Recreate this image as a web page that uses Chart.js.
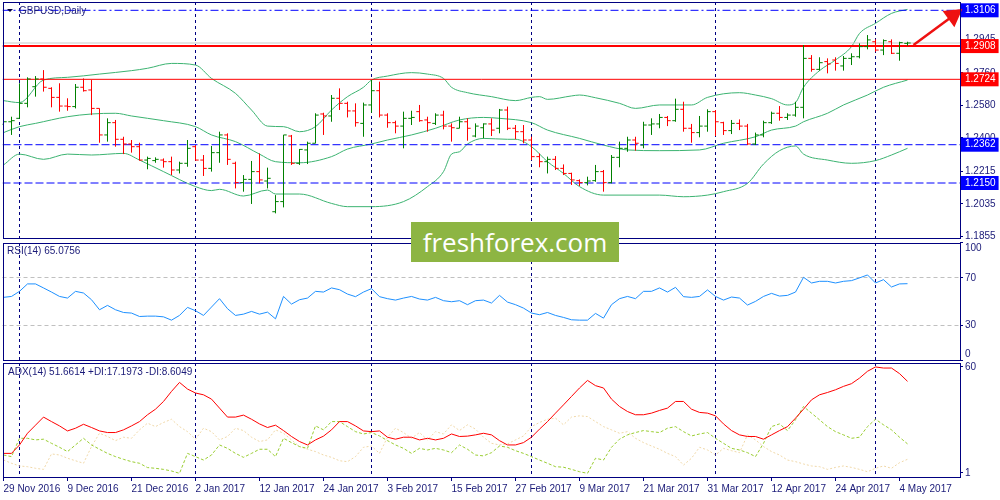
<!DOCTYPE html>
<html lang="en">
<head>
<meta charset="UTF-8">
<title>GBPUSD Daily</title>
<style>
  body { margin: 0; background: #ffffff; }
  #wrap { position: relative; width: 1000px; height: 500px; overflow: hidden; font-family: "Liberation Sans", Arial, sans-serif; }
  canvas { position: absolute; left: 0; }
  .ind { position: absolute; font-size: 10px; line-height: 12px; color: #1a1a78; white-space: nowrap; z-index: 4; }
  .tri { position: absolute; left: 7px; top: 9px; width: 0; height: 0; border-left: 3px solid transparent; border-right: 3px solid transparent; border-top: 3px solid #000040; }
  .mark { position: absolute; left: 411px; top: 222px; width: 208px; height: 40px; background: #8db543; color: #ffffff; font-family: "Open Sans", sans-serif; font-size: 26px; line-height: 40px; text-align: center; z-index: 5; }
</style>
</head>
<body>
<div id="wrap">
  <canvas id="priceChart" width="1000" height="241" style="top:0"></canvas>
  <canvas id="rsiChart" width="1000" height="124" style="top:240px"></canvas>
  <canvas id="adxChart" width="1000" height="138" style="top:362px"></canvas>
  <div class="tri"></div>
  <div class="ind" style="left:19px;top:5px">GBPUSD,Daily</div>
  <div class="ind" style="left:7px;top:245px">RSI(14) 65.0756</div>
  <div class="ind" style="left:8px;top:366px">ADX(14) 51.6614 +DI:17.1973 -DI:8.6049</div>
  <div class="mark">freshforex.com</div>
</div>

<script src="https://cdn.jsdelivr.net/npm/chart.js"></script>
<script>
// bar index 0 = 29 Nov 2016, one bar per trading day
const dateLabels = ['29 Nov 2016','9 Dec 2016','21 Dec 2016','2 Jan 2017','12 Jan 2017','24 Jan 2017','3 Feb 2017',
  '15 Feb 2017','27 Feb 2017','9 Mar 2017','21 Mar 2017','31 Mar 2017','12 Apr 2017','24 Apr 2017','4 May 2017'];
const labelIdx = [0,8,16,24,32,40,48,56,64,72,80,88,96,104,112];
const monthIdx = [2,24,46,66,89,109];

const open = [
  1.2475,1.2489,1.2508,1.2591,1.2683,1.2726,1.2674,1.2624,1.2576,1.2573,
  1.2680,1.2665,1.2563,1.2416,1.2484,1.2392,1.2366,1.2351,1.2277,1.2274,
  1.2277,1.2268,1.2222,1.2259,1.2351,1.2277,1.2231,1.2318,1.2416,1.2259,
  1.2152,1.2170,1.2213,1.2161,1.1991,1.2047,1.2410,1.2259,1.2333,1.2370,
  1.2532,1.2521,1.2619,1.2591,1.2549,1.2480,1.2582,1.2661,1.2526,1.2484,
  1.2465,1.2508,1.2545,1.2499,1.2480,1.2526,1.2465,1.2453,1.2489,1.2410,
  1.2456,1.2477,1.2453,1.2554,1.2453,1.2434,1.2388,1.2296,1.2268,1.2281,
  1.2231,1.2203,1.2163,1.2152,1.2163,1.2213,1.2152,1.2292,1.2342,1.2388,
  1.2360,1.2471,1.2477,1.2513,1.2495,1.2558,1.2453,1.2429,1.2465,1.2545,
  1.2484,1.2440,1.2480,1.2465,1.2366,1.2416,1.2484,1.2536,1.2513,1.2526,
  1.2569,1.2840,1.2779,1.2822,1.2831,1.2798,1.2840,1.2849,1.2905,1.2932,
  1.2886,1.2932,1.2868,1.2923];
const high = [
  1.2526,1.2517,1.2702,1.2735,1.2742,1.2775,1.2680,1.2702,1.2619,1.2698,
  1.2729,1.2720,1.2563,1.2508,1.2499,1.2406,1.2388,1.2373,1.2296,1.2292,
  1.2286,1.2296,1.2268,1.2388,1.2360,1.2305,1.2355,1.2434,1.2425,1.2268,
  1.2194,1.2272,1.2314,1.2235,1.2083,1.2416,1.2416,1.2338,1.2379,1.2536,
  1.2539,1.2637,1.2674,1.2600,1.2591,1.2595,1.2720,1.2711,1.2536,1.2495,
  1.2545,1.2550,1.2582,1.2517,1.2536,1.2550,1.2480,1.2517,1.2508,1.2480,
  1.2480,1.2508,1.2560,1.2573,1.2471,1.2471,1.2406,1.2314,1.2296,1.2299,
  1.2253,1.2207,1.2170,1.2185,1.2250,1.2222,1.2305,1.2379,1.2406,1.2406,
  1.2489,1.2508,1.2532,1.2521,1.2617,1.2600,1.2477,1.2521,1.2558,1.2554,
  1.2489,1.2499,1.2502,1.2477,1.2429,1.2495,1.2545,1.2576,1.2536,1.2600,
  1.2914,1.2858,1.2846,1.2840,1.2846,1.2853,1.2868,1.2923,1.2969,1.2945,
  1.2945,1.2945,1.2932,1.2932];
const low = [
  1.2388,1.2416,1.2508,1.2569,1.2628,1.2656,1.2569,1.2545,1.2550,1.2563,
  1.2656,1.2526,1.2373,1.2379,1.2351,1.2310,1.2318,1.2274,1.2226,1.2262,
  1.2235,1.2194,1.2203,1.2240,1.2274,1.2189,1.2213,1.2262,1.2250,1.2120,
  1.2102,1.2034,1.2148,1.2120,1.1982,1.2015,1.2250,1.2250,1.2255,1.2370,
  1.2416,1.2489,1.2554,1.2513,1.2462,1.2406,1.2539,1.2513,1.2456,1.2425,
  1.2342,1.2471,1.2489,1.2434,1.2471,1.2447,1.2379,1.2453,1.2384,1.2403,
  1.2397,1.2410,1.2425,1.2443,1.2392,1.2370,1.2277,1.2237,1.2203,1.2222,
  1.2194,1.2139,1.2133,1.2137,1.2157,1.2102,1.2148,1.2237,1.2323,1.2329,
  1.2342,1.2416,1.2453,1.2465,1.2489,1.2434,1.2373,1.2403,1.2434,1.2410,
  1.2416,1.2421,1.2443,1.2360,1.2360,1.2403,1.2477,1.2495,1.2499,1.2517,
  1.2508,1.2766,1.2772,1.2757,1.2772,1.2772,1.2803,1.2840,1.2890,1.2877,
  1.2858,1.2864,1.2827,1.2910];
const close = [
  1.2489,1.2495,1.2591,1.2726,1.2726,1.2680,1.2624,1.2576,1.2573,1.2680,
  1.2661,1.2563,1.2416,1.2484,1.2392,1.2366,1.2351,1.2277,1.2286,1.2281,
  1.2268,1.2222,1.2259,1.2342,1.2277,1.2231,1.2318,1.2416,1.2281,1.2152,
  1.2170,1.2213,1.2167,1.2176,1.2047,1.2416,1.2259,1.2336,1.2370,1.2526,
  1.2521,1.2619,1.2591,1.2549,1.2484,1.2582,1.2661,1.2526,1.2484,1.2465,
  1.2508,1.2513,1.2495,1.2484,1.2526,1.2465,1.2456,1.2489,1.2453,1.2465,
  1.2477,1.2443,1.2554,1.2453,1.2434,1.2388,1.2296,1.2268,1.2281,1.2231,
  1.2203,1.2167,1.2152,1.2161,1.2213,1.2152,1.2292,1.2342,1.2388,1.2370,
  1.2471,1.2477,1.2513,1.2495,1.2558,1.2453,1.2429,1.2465,1.2545,1.2489,
  1.2440,1.2480,1.2465,1.2366,1.2416,1.2484,1.2536,1.2513,1.2526,1.2569,
  1.2840,1.2779,1.2816,1.2809,1.2812,1.2840,1.2849,1.2905,1.2942,1.2886,
  1.2938,1.2868,1.2927,1.2925];

// Bollinger bands: [bar index, price]
const bbUpper = [[0,1.2606],[2,1.2595],[5,1.2720],[8,1.2735],[12,1.2753],[16,1.2772],[18,1.2785],[21,1.2812],
  [24,1.2803],[26,1.2729],[29,1.2646],[31,1.2554],[33,1.2465],[35,1.2462],[37,1.2434],[39,1.2462],[41,1.2554],
  [43,1.2628],[45,1.2680],[46,1.2720],[48,1.2742],[51,1.2761],[53,1.2753],[55,1.2729],[56,1.2680],[58,1.2650],
  [61,1.2628],[64,1.2606],[66,1.2624],[67,1.2628],[68,1.2613],[71,1.2632],[72,1.2637],[74,1.2622],[77,1.2591],
  [79,1.2563],[82,1.2582],[86,1.2582],[88,1.2624],[92,1.2650],[94,1.2637],[96,1.2617],[98,1.2582],[99,1.2595],
  [100,1.2680],[102,1.2772],[104,1.2831],[106,1.2905],[107,1.2978],[109,1.3034],[111,1.3089],[113,1.3111]];
const bbMiddle = [[0,1.2429],[2,1.2462],[4,1.2480],[8,1.2517],[11,1.2532],[14,1.2536],[16,1.2521],[20,1.2495],
  [24,1.2462],[26,1.2416],[29,1.2379],[32,1.2310],[34,1.2268],[37,1.2262],[41,1.2296],[43,1.2338],[46,1.2366],
  [48,1.2388],[51,1.2416],[54,1.2453],[57,1.2499],[60,1.2513],[62,1.2508],[66,1.2484],[68,1.2443],[72,1.2397],
  [75,1.2360],[78,1.2333],[82,1.2329],[87,1.2333],[90,1.2370],[94,1.2406],[96,1.2443],[99,1.2465],[100,1.2489],
  [103,1.2536],[105,1.2582],[108,1.2637],[110,1.2680],[113,1.2720]];
const bbLower = [[0,1.2250],[2,1.2310],[5,1.2281],[8,1.2310],[11,1.2305],[15,1.2314],[17,1.2277],[20,1.2213],
  [24,1.2130],[26,1.2108],[27,1.2115],[30,1.2078],[33,1.2111],[34,1.2089],[37,1.2089],[41,1.2037],[43,1.2019],
  [46,1.2019],[50,1.2047],[53,1.2130],[55,1.2213],[56,1.2310],[57,1.2323],[58,1.2366],[60,1.2397],[63,1.2392],
  [64,1.2392],[66,1.2351],[68,1.2268],[70,1.2203],[72,1.2130],[75,1.2083],[82,1.2083],[85,1.2074],[88,1.2083],
  [90,1.2102],[93,1.2148],[95,1.2255],[97,1.2329],[99,1.2355],[100,1.2310],[103,1.2277],[106,1.2259],
  [109,1.2274],[111,1.2305],[113,1.2342]];

const levels = [1.3106, 1.2908, 1.2724, 1.2362, 1.2150];
const levelColors = ['#0000ff', '#ff0000', '#ff0000', '#0000ff', '#0000ff'];
const levelDash = [[8,3,2,3], [], [], [8,3], [8,3]];
const levelWidth = [1, 2, 1, 1, 1];
const priceTicks = [1.1855, 1.2035, 1.2215, 1.2400, 1.2580, 1.2760, 1.2945];
const arrowFrom = [113.75, 1.2914];
const arrowTo = [118.7, 1.3076];

const rsi = [
  53.5,54.3,58.6,64.9,64.9,61.5,58.0,54.3,52.9,58.6,
  57.2,51.5,43.0,46.7,43.0,40.7,40.2,37.3,37.6,37.6,
  37.0,34.2,38.2,45.0,42.2,38.2,45.3,52.4,43.9,38.2,
  39.3,41.6,39.3,41.0,35.3,54.3,47.8,51.5,52.9,58.6,
  58.0,61.5,60.0,56.3,54.1,58.0,60.9,54.1,52.4,51.2,
  52.9,54.3,52.1,51.2,53.5,50.7,49.8,50.7,47.3,50.7,
  51.2,48.7,55.2,49.5,47.3,44.4,40.2,38.8,40.7,38.2,
  36.5,34.5,34.2,34.2,39.9,35.9,47.3,52.4,54.3,52.4,
  58.6,58.6,61.5,58.0,62.0,54.1,53.5,54.3,59.8,54.3,
  51.2,53.8,52.9,47.0,50.1,54.3,56.9,54.6,55.2,58.0,
  70.5,65.7,67.1,67.1,65.7,67.1,67.7,70.0,72.5,65.7,
  68.5,62.3,64.9,65.1];
const rsiTicks = [0, 30, 70, 100];
const rsiLevels = [30, 70];

const adx = [
  11.9,11.9,16.6,23.1,27.6,32.1,29.6,27.2,24.4,25.9,
  28.1,26.3,24.4,23.5,23.5,25.0,27.2,29.6,33.4,36.5,
  40.8,46.4,51.4,47.7,45.5,44.5,42.1,37.1,32.1,32.1,
  33.2,30.9,28.3,26.3,27.6,24.6,21.3,18.5,16.6,19.4,
  21.5,25.0,29.6,29.6,27.2,24.4,24.0,24.4,20.9,19.8,
  20.9,20.9,19.4,20.3,19.4,20.3,22.7,21.3,21.5,22.2,
  23.1,22.2,19.0,16.6,16.6,17.9,20.9,25.4,29.6,34.3,
  38.9,43.6,48.3,52.5,49.6,48.3,42.1,38.0,35.2,33.4,
  33.4,34.3,35.8,37.1,40.8,40.8,36.5,34.7,34.3,32.8,
  28.3,24.6,22.2,21.3,21.3,19.8,22.2,24.6,26.8,31.5,
  36.5,41.7,44.5,45.8,47.3,49.2,50.7,53.8,57.6,60.0,
  59.4,59.4,56.3,52.0];
const plusDi = [
  11.0,10.1,20.3,20.3,19.4,19.8,17.5,15.3,12.9,16.6,
  20.3,16.6,14.2,11.9,10.1,8.6,7.3,6.4,4.0,3.6,
  3.0,2.1,0.8,11.9,10.1,8.2,11.0,16.6,14.7,11.9,
  9.7,11.9,14.2,14.2,10.1,20.3,17.9,15.7,14.7,27.2,
  25.0,29.6,29.6,26.8,24.0,22.7,23.5,21.6,19.0,16.6,
  14.7,11.9,14.7,13.8,14.7,13.8,12.3,16.6,14.2,11.0,
  10.5,12.3,16.0,15.3,13.4,11.9,10.1,8.2,6.4,4.5,
  4.2,3.0,1.7,0.8,9.2,8.2,15.3,19.8,22.2,23.5,
  24.6,24.0,23.5,25.9,26.8,24.0,21.6,22.7,23.5,20.3,
  17.5,14.7,13.8,12.3,10.1,17.5,26.8,28.3,24.6,30.6,
  38.0,34.3,30.6,26.8,24.0,22.2,20.3,20.9,26.8,30.9,
  27.8,25.0,20.9,17.2];
const minusDi = [
  8.2,6.4,4.9,4.5,3.6,3.0,11.6,11.0,9.2,7.8,
  6.4,15.7,23.1,21.3,19.0,20.9,20.3,25.0,28.7,26.8,
  29.1,30.9,26.8,24.0,19.8,25.9,24.0,19.4,21.3,25.9,
  24.6,20.9,18.5,19.4,25.0,23.1,19.4,15.7,14.2,12.9,
  11.0,9.7,7.8,7.3,10.1,15.3,16.0,11.9,20.9,25.9,
  23.5,20.3,23.5,19.4,24.0,22.7,27.8,24.6,27.8,25.4,
  20.9,17.5,16.6,17.2,19.4,21.6,26.8,29.1,30.9,31.5,
  27.8,32.1,32.8,32.4,29.6,26.8,25.0,23.1,24.0,20.3,
  17.9,16.0,14.2,11.9,10.1,5.4,9.2,15.3,13.8,11.0,
  14.7,13.4,12.3,22.2,19.4,15.7,12.9,11.0,8.2,7.3,
  6.0,4.9,4.5,3.0,4.1,4.9,4.1,3.0,1.7,3.6,
  4.9,3.6,6.7,8.6];
const adxTicks = [1, 60];

// ---- look ----
// chart area starts at x=2.5 so every bar lands on a pixel centre (8px per bar)
const X_MIN = -0.125, X_MAX = 119.5625;
const NAVY = '#000080';
const TXT = '#1a1a78';
const UP = '#008000', DOWN = '#ff0000';
const FONT = { family: 'Liberation Sans', size: 10 };

const framePlugin = {
  id: 'frame',
  afterDraw(chart) {
    const { ctx, chartArea: a } = chart;
    ctx.save();
    ctx.strokeStyle = NAVY;
    ctx.lineWidth = 1;
    ctx.strokeRect(Math.round(a.left) + 0.5, Math.round(a.top) + 0.5,
      Math.round(a.right - a.left) - 1, Math.round(a.bottom - a.top) - 1);
    ctx.restore();
  }
};

function monthAxis() {
  return {
    type: 'linear', min: X_MIN, max: X_MAX, position: 'top', offset: false,
    afterBuildTicks: s => { s.ticks = monthIdx.map(v => ({ value: v })); },
    afterFit: s => { s.height = 0; s.paddingLeft = 0; s.paddingRight = 0; },
    ticks: { display: false },
    border: { display: false, dash: [3, 3] },
    grid: { color: NAVY, lineWidth: 1, drawTicks: false }
  };
}
function hiddenX() {
  return { type: 'linear', min: X_MIN, max: X_MAX, display: false, offset: false };
}
function rightAxis(extra) {
  return Object.assign({
    type: 'linear', position: 'right',
    afterFit: s => { s.width = 40; s.paddingTop = 0; s.paddingBottom = 0; },
    border: { display: false },
    grid: { drawOnChartArea: false, drawTicks: true, tickLength: 3, tickColor: NAVY }
  }, extra);
}
const baseOpts = {
  responsive: false, animation: false, events: [],
  plugins: { legend: { display: false }, tooltip: { enabled: false } }
};

// ---- price panel ----
const isUp = i => close[i] >= open[i];
function wicks(up) {
  const pts = [];
  close.forEach((c, i) => {
    if (isUp(i) === up) pts.push({ x: i, y: low[i] }, { x: i, y: high[i] }, { x: i, y: null });
  });
  return pts;
}
const levelOf = c => (c.tick ? levels.indexOf(c.tick.value) : -1);
const flat = v => [{ x: X_MIN, y: v }, { x: X_MAX, y: v }];
const band = arr => arr.map(p => ({ x: p[0], y: p[1] }));
const rotation = 53.6;

const priceSets = [
  { data: [{ x: arrowFrom[0], y: arrowFrom[1] }, { x: arrowTo[0], y: arrowTo[1] }],
    borderColor: '#ee1111', borderWidth: 2.5, pointRadius: [0, 9], pointStyle: 'triangle',
    rotation: rotation, pointBackgroundColor: '#ee1111', pointBorderColor: '#ee1111', clip: false, order: 0 },
  { data: wicks(true), borderColor: UP, borderWidth: 1, pointRadius: 0, order: 1 },
  { data: wicks(false), borderColor: DOWN, borderWidth: 1, pointRadius: 0, order: 1 },
  { data: open.map((o, i) => ({ x: i - 0.2, y: o })), showLine: false, pointStyle: 'line', pointRadius: 1.6,
    pointBorderWidth: 1, pointBorderColor: open.map((o, i) => isUp(i) ? UP : DOWN), order: 1 },
  { data: close.map((c, i) => ({ x: i + 0.2, y: c })), showLine: false, pointStyle: 'line', pointRadius: 1.6,
    pointBorderWidth: 1, pointBorderColor: close.map((c, i) => isUp(i) ? UP : DOWN), order: 1 },
  { data: flat(close[close.length - 1]), borderColor: '#c8c8c8', borderWidth: 1, pointRadius: 0, order: 3 }
];
levels.forEach((v, k) => priceSets.push({
  data: flat(v), borderColor: levelColors[k], borderWidth: levelWidth[k], borderDash: levelDash[k],
  pointRadius: 0, order: 2
}));
[bbUpper, bbMiddle, bbLower].forEach(b => priceSets.push({
  data: band(b), borderColor: '#3cb371', borderWidth: 1, pointRadius: 0,
  cubicInterpolationMode: 'monotone', order: 4
}));

new Chart(document.getElementById('priceChart'), {
  type: 'line',
  data: { datasets: priceSets },
  options: Object.assign({}, baseOpts, {
    layout: { autoPadding: false, padding: { top: 2, bottom: 2, left: 2.5, right: 0 } },
    scales: {
      x: hiddenX(),
      xm: monthAxis(),
      y: rightAxis({
        min: 1.1840, max: 1.3152,
        afterBuildTicks: s => { s.ticks = priceTicks.concat(levels).map(v => ({ value: v })); },
        ticks: {
          autoSkip: false, padding: 2, font: FONT,
          color: c => levelOf(c) >= 0 ? '#ffffff' : TXT,
          showLabelBackdrop: c => levelOf(c) >= 0,
          backdropColor: c => { const k = levelOf(c); return k >= 0 ? levelColors[k] : 'rgba(0,0,0,0)'; },
          backdropPadding: { top: 1, bottom: 1, left: 4, right: 3 },
          callback: v => v.toFixed(4)
        }
      })
    }
  }),
  plugins: [framePlugin]
});

// ---- RSI panel ----
new Chart(document.getElementById('rsiChart'), {
  type: 'line',
  data: { datasets: [{
    data: rsi.map((v, i) => ({ x: i, y: v })), borderColor: '#1e90ff', borderWidth: 1, pointRadius: 0
  }] },
  options: Object.assign({}, baseOpts, {
    layout: { autoPadding: false, padding: { top: 2.5, bottom: 3.5, left: 2.5, right: 0 } },
    scales: {
      x: hiddenX(),
      xm: monthAxis(),
      y: rightAxis({
        min: 0, max: 100,
        afterBuildTicks: s => { s.ticks = rsiTicks.map(v => ({ value: v })); },
        border: { display: false, dash: [4, 3] },
        grid: {
          drawOnChartArea: true, drawTicks: true, tickLength: 3, tickColor: NAVY,
          color: c => (c.tick && rsiLevels.includes(c.tick.value)) ? '#c0c0c0' : 'rgba(0,0,0,0)'
        },
        ticks: {
          autoSkip: false, padding: 2, font: FONT, color: TXT,
          callback: v => v === 100 ? ['', '100'] : v === 0 ? ['0', ''] : String(v)
        }
      })
    }
  }),
  plugins: [framePlugin]
});

// ---- ADX panel ----
new Chart(document.getElementById('adxChart'), {
  type: 'line',
  data: { datasets: [
    { data: adx.map((v, i) => ({ x: i, y: v })), borderColor: '#ff0000', borderWidth: 1, pointRadius: 0, order: 0 },
    { data: plusDi.map((v, i) => ({ x: i, y: v })), borderColor: '#9acd32', borderWidth: 1, borderDash: [3, 2], pointRadius: 0, order: 1 },
    { data: minusDi.map((v, i) => ({ x: i, y: v })), borderColor: '#f0d8a8', borderWidth: 1, borderDash: [2, 2], pointRadius: 0, order: 2 }
  ] },
  options: Object.assign({}, baseOpts, {
    layout: { autoPadding: false, padding: { top: 1, bottom: 0, left: 2.5, right: 0 } },
    scales: {
      x: {
        type: 'linear', min: X_MIN, max: X_MAX, position: 'bottom', offset: false,
        afterBuildTicks: s => { s.ticks = labelIdx.map(v => ({ value: v })); },
        afterFit: s => { s.height = 22; s.paddingLeft = 0; s.paddingRight = 0; },
        border: { display: false },
        grid: { drawOnChartArea: false, drawTicks: true, tickLength: 3, tickColor: NAVY },
        ticks: {
          autoSkip: false, maxRotation: 0, minRotation: 0, align: 'start', padding: 2,
          font: FONT, color: TXT, callback: (v, i) => dateLabels[i]
        }
      },
      xm: monthAxis(),
      y: rightAxis({
        min: -1.8, max: 62.2,
        afterBuildTicks: s => { s.ticks = adxTicks.map(v => ({ value: v })); },
        ticks: { autoSkip: false, padding: 2, font: FONT, color: TXT, callback: v => String(v) }
      })
    }
  }),
  plugins: [framePlugin]
});
</script>
</body>
</html>
